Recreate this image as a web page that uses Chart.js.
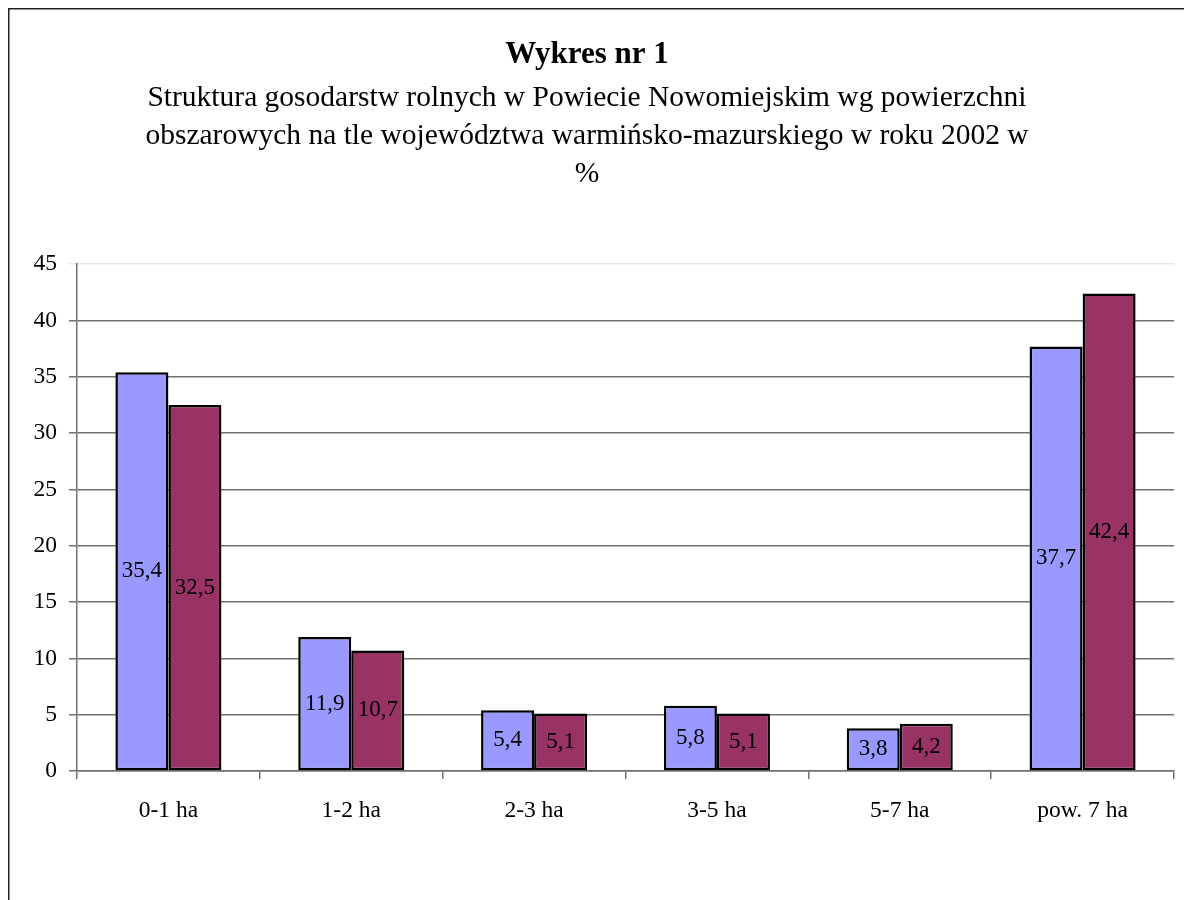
<!DOCTYPE html>
<html>
<head>
<meta charset="utf-8">
<script src="https://cdn.jsdelivr.net/npm/chart.js@4/dist/chart.umd.min.js"></script>
<style>
  html, body { margin: 0; padding: 0; background: #fff; }
  #wrap { position: relative; width: 1184px; height: 900px; }
  canvas { display: block; }
</style>
</head>
<body>
<div id="wrap"><canvas id="c" width="1184" height="900"></canvas></div>
<script>
const categories = ["0-1 ha", "1-2 ha", "2-3 ha", "3-5 ha", "5-7 ha", "pow. 7 ha"];
const powiatValues = [35.4, 11.9, 5.4, 5.8, 3.8, 37.7];
const wojewodztwoValues = [32.5, 10.7, 5.1, 5.1, 4.2, 42.4];
const seriesNames = ["Powiat Nowomiejski", "Województwo warmińsko-mazurskie"];
const yTicks = [0, 5, 10, 15, 20, 25, 30, 35, 40, 45];
const titleText = "Wykres nr 1";
const subtitleLines = [
  "Struktura gosodarstw rolnych w Powiecie Nowomiejskim wg powierzchni",
  "obszarowych na tle województwa warmińsko-mazurskiego w roku 2002 w",
  "%"
];

const SERIF = "'Liberation Serif', 'Times New Roman', serif";

const framePlugin = {
  id: 'frame',
  beforeDraw(chart) {
    const ctx = chart.ctx;
    ctx.save();
    ctx.fillStyle = '#fff';
    ctx.fillRect(0, 0, chart.width, chart.height);
    ctx.strokeStyle = '#222';
    ctx.lineWidth = 1.5;
    ctx.beginPath();
    ctx.moveTo(8.75, chart.height + 5);
    ctx.lineTo(8.75, 8.75);
    ctx.lineTo(chart.width + 5, 8.75);
    ctx.stroke();
    ctx.restore();
  }
};

const valueLabels = {
  id: 'valueLabels',
  afterDatasetsDraw(chart) {
    const ctx = chart.ctx;
    ctx.save();
    ctx.font = "23px " + SERIF;
    ctx.fillStyle = '#000';
    ctx.textAlign = 'center';
    ctx.textBaseline = 'middle';
    chart.data.datasets.forEach((ds, di) => {
      const meta = chart.getDatasetMeta(di);
      meta.data.forEach((bar, i) => {
        const v = ds.data[i];
        const yMid = (bar.y + bar.base) / 2;
        ctx.fillText(String(v).replace('.', ','), bar.x, yMid);
      });
    });
    ctx.restore();
  }
};

new Chart(document.getElementById('c'), {
  type: 'bar',
  data: {
    labels: categories,
    datasets: [
      { label: seriesNames[0], data: powiatValues, backgroundColor: '#9999FF', borderColor: '#000', borderWidth: 2.5, borderSkipped: false },
      { label: seriesNames[1], data: wojewodztwoValues, backgroundColor: '#993366', borderColor: '#000', borderWidth: 2.5, borderSkipped: false }
    ]
  },
  options: {
    responsive: false,
    animation: false,
    devicePixelRatio: 1,
    layout: { padding: { left: 0, right: 10, top: 0, bottom: 0 } },
    datasets: { bar: { categoryPercentage: 0.58, barPercentage: 1.0 } },
    plugins: {
      legend: { display: false },
      tooltip: { enabled: false },
      title: {
        display: true,
        text: titleText,
        color: '#000',
        font: { family: SERIF, size: 31, weight: 'bold', lineHeight: 1.2 },
        padding: { top: 36, bottom: 5 }
      },
      subtitle: {
        display: true,
        text: subtitleLines,
        color: '#000',
        font: { family: SERIF, size: 29.5, weight: 'normal', lineHeight: 38/29.5 },
        padding: { top: 1, bottom: 71 }
      }
    },
    scales: {
      x: {
        offset: true,
        grid: {
          offset: true,
          drawOnChartArea: false,
          drawTicks: true,
          tickLength: 8,
          color: '#707070',
          lineWidth: 1.5
        },
        border: { display: true, color: '#707070', width: 1.5 },
        ticks: { color: '#000', font: { family: SERIF, size: 23.5 }, padding: 18, maxRotation: 0 },
        afterFit(scale) { scale.height = 129; }
      },
      y: {
        min: 0,
        max: 45,
        afterBuildTicks(scale) { scale.ticks = yTicks.map(v => ({ value: v })); },
        grid: {
          drawOnChartArea: true,
          drawTicks: true,
          tickLength: 8,
          color: (c) => (c.tick && c.tick.value === 45) ? '#e6e6e6' : '#707070',
          lineWidth: 1.5
        },
        border: { display: true, color: '#707070', width: 1.5 },
        ticks: { color: '#000', font: { family: SERIF, size: 23.5 }, padding: 12 },
        afterFit(scale) { scale.width = 77; }
      }
    }
  },
  plugins: [framePlugin, valueLabels]
});
</script>
</body>
</html>
